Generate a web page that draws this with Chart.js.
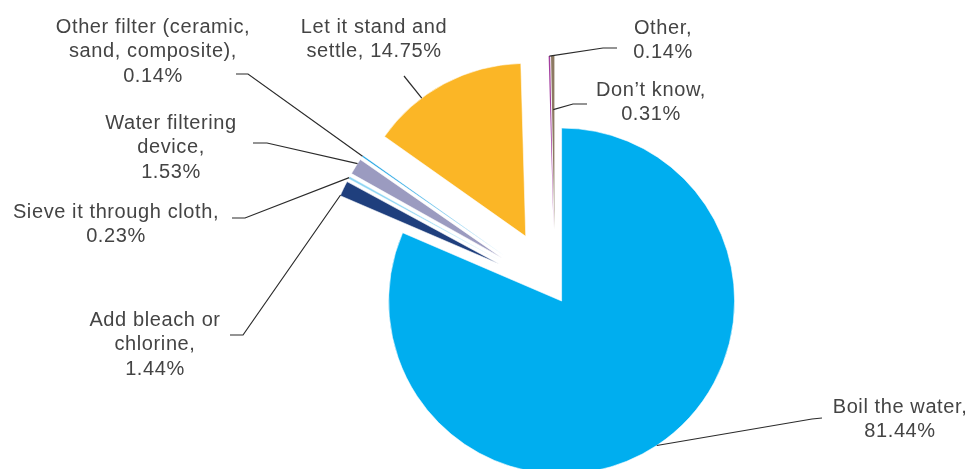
<!DOCTYPE html>
<html>
<head>
<meta charset="utf-8">
<script src="https://cdn.jsdelivr.net/npm/chart.js@4"></script>
<style>
  html, body { margin: 0; padding: 0; background: #fff; }
  #wrap { width: 966px; height: 469px; }
</style>
</head>
<body>
<div id="wrap"><canvas id="waterTreatment" width="966" height="469"></canvas></div>
<script>
(function () {
  const categories = [
    'Boil the water',
    'Add bleach or chlorine',
    'Sieve it through cloth',
    'Water filtering device',
    'Other filter (ceramic, sand, composite)',
    'Let it stand and settle',
    'Other',
    'Don’t know'
  ];
  const shares = [81.44, 1.44, 0.23, 1.53, 0.14, 14.75, 0.14, 0.31];
  // label text per slice, {v} is replaced by the share
  const labelText = [
    ['Boil the water,', '{v}'],
    ['Add bleach or', 'chlorine,', '{v}'],
    ['Sieve it through cloth,', '{v}'],
    ['Water filtering', 'device,', '{v}'],
    ['Other filter (ceramic,', 'sand, composite),', '{v}'],
    ['Let it stand and', 'settle, {v}'],
    ['Other,', '{v}'],
    ['Don’t know,', '{v}']
  ];

  const sliceColors = ['#00aeef', '#1f3f7d', '#8fd6f4', '#9b9bc0', '#1ba1e2', '#fbb626', '#a43fa0', '#8c7a62'];
  const sliceBorders = [0.6, 0.6, 0.5, 0.6, 0.4, 0.6, 0, 0];
  // how far each slice is pulled out from the centre, px
  const explode = [12, 62, 62, 62, 62, 62, 62, 62];
  const RADIUS = 173;

  // where each label sits and how its leader line runs
  // frac: position along the arc, rFrac: fraction of radius, elbow/tail: leader bends
  const labelLayout = [
    { x: 900, y: 407, frac: 0.5,  rFrac: 1,    elbow: [812, 419], tail: [822, 418] },
    { x: 155, y: 320, frac: 0.05, rFrac: 1,    elbow: [243, 335], tail: [230, 335] },
    { x: 116, y: 212, frac: 0.5,  rFrac: 1,    elbow: [245, 218], tail: [232, 218] },
    { x: 171, y: 123, frac: 0.7,  rFrac: 1,    elbow: [267, 143], tail: [253, 143] },
    { x: 153, y: 27,  frac: 0.5,  rFrac: 1,    elbow: [248, 74],  tail: [236, 74] },
    { x: 374, y: 27,  frac: 0.335, rFrac: 1,   elbow: [404, 76],  tail: [404, 76] },
    { x: 663, y: 28,  frac: 0.5,  rFrac: 1,    elbow: [603, 48],  tail: [617, 48] },
    { x: 651, y: 90,  frac: 0.5,  rFrac: 0.69, elbow: [573, 104], tail: [587, 104] }
  ];
  const LINE_GAP = 24.5;

  // pull slices out along their middle angle (the built-in offset also trims thin slices away)
  const explodeSlices = {
    id: 'explodeSlices',
    afterDatasetUpdate(chart, args) {
      if (args.index !== 0) return;
      chart.getDatasetMeta(0).data.forEach((arc, i) => {
        const mid = (arc.startAngle + arc.endAngle) / 2;
        arc.x += Math.cos(mid) * explode[i];
        arc.y += Math.sin(mid) * explode[i];
      });
    }
  };

  function edgePoint(arc, frac, rFrac) {
    const a = arc.startAngle + (arc.endAngle - arc.startAngle) * frac;
    const r = RADIUS * rFrac;
    return [arc.x + Math.cos(a) * r, arc.y + Math.sin(a) * r];
  }

  const outsideLabels = {
    id: 'outsideLabels',
    afterDatasetsDraw(chart) {
      const ctx = chart.ctx;
      const arcs = chart.getDatasetMeta(0).data;
      ctx.save();
      arcs.forEach((arc, i) => {
        const l = labelLayout[i];
        const start = edgePoint(arc, l.frac, l.rFrac);
        ctx.beginPath();
        ctx.moveTo(start[0], start[1]);
        ctx.lineTo(l.elbow[0], l.elbow[1]);
        ctx.lineTo(l.tail[0], l.tail[1]);
        ctx.strokeStyle = '#2b2b2b';
        ctx.lineWidth = 1.2;
        ctx.stroke();

        const value = shares[i].toFixed(2) + '%';
        ctx.fillStyle = '#444444';
        ctx.font = '20px "Liberation Sans", Arial, sans-serif';
        ctx.letterSpacing = '0.6px';
        ctx.textAlign = 'center';
        ctx.textBaseline = 'middle';
        labelText[i].forEach((t, k) => {
          ctx.fillText(t.replace('{v}', value), l.x, l.y + k * LINE_GAP);
        });
      });
      ctx.restore();
    }
  };

  const canvas = document.getElementById('waterTreatment');
  new Chart(canvas, {
    type: 'pie',
    data: {
      labels: categories,
      datasets: [{
        data: shares,
        backgroundColor: sliceColors,
        borderColor: '#ffffff',
        borderWidth: sliceBorders,
        clip: false
      }]
    },
    options: {
      responsive: false,
      animation: false,
      radius: RADIUS,
      layout: { padding: { left: 144, top: 113, right: 0, bottom: 0 } },
      plugins: {
        legend: { display: false },
        tooltip: { enabled: false }
      }
    },
    plugins: [explodeSlices, outsideLabels]
  });
})();
</script>
</body>
</html>
